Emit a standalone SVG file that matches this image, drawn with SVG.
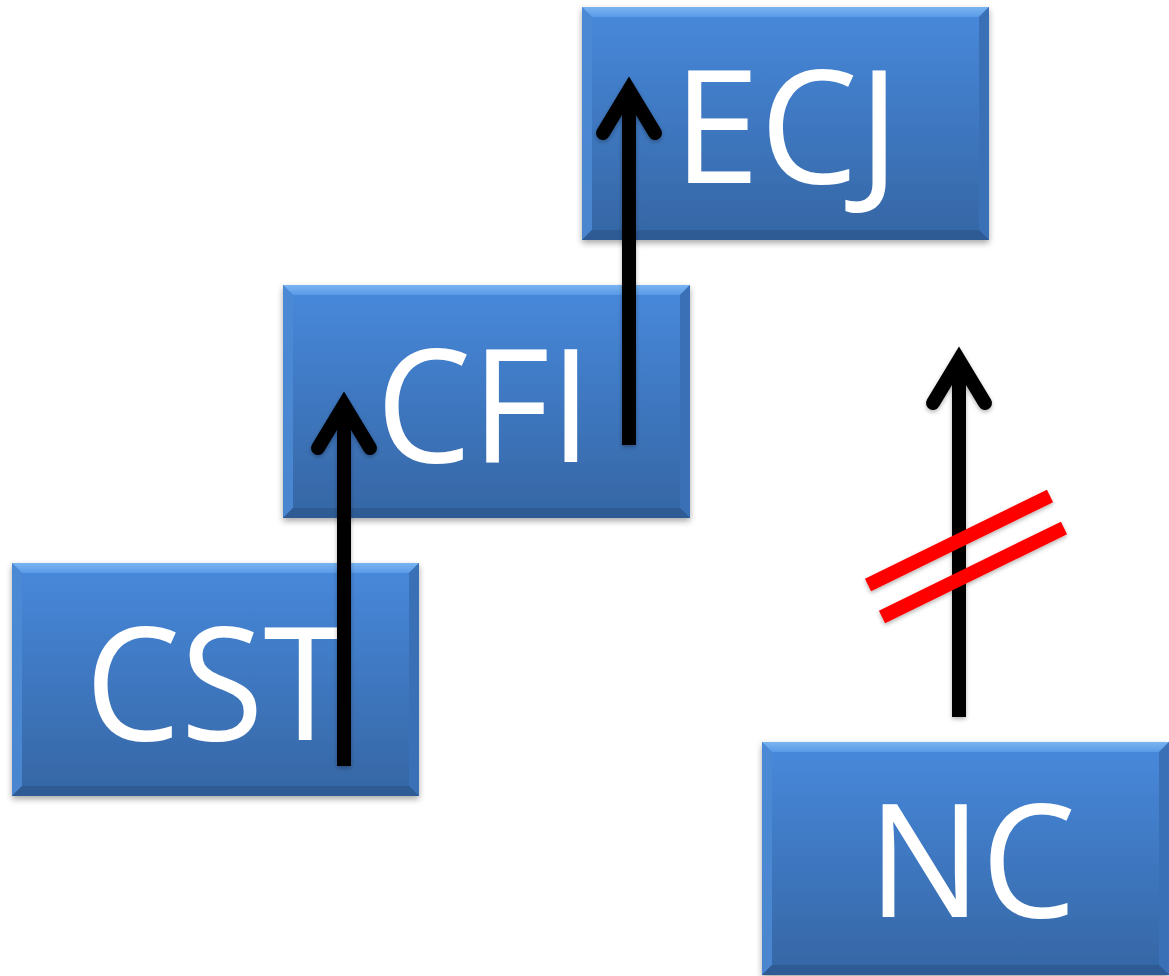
<svg xmlns="http://www.w3.org/2000/svg" xmlns:xlink="http://www.w3.org/1999/xlink" width="1169" height="976" viewBox="0 0 1169 976">
  <style>
    .lbl { font-family: "Open Sans", "Noto Sans", "Liberation Sans", sans-serif; font-size: 158px; fill: #ffffff; text-anchor: middle; }
    .shaft { stroke: #000; stroke-width: 14; fill: none; stroke-linecap: butt; }
    .head { stroke: #000; stroke-width: 14; fill: none; stroke-linecap: round; stroke-linejoin: miter; stroke-miterlimit: 10; }
    .cross { stroke: #ff0000; stroke-width: 14; fill: none; stroke-linecap: butt; }
  </style>
  <defs>
    <linearGradient id="fillG" x1="0" y1="0" x2="0" y2="1">
      <stop offset="0" stop-color="#4889dc"/>
      <stop offset="1" stop-color="#3566a4"/>
    </linearGradient>
    <linearGradient id="topG" x1="0" y1="0" x2="0" y2="1">
      <stop offset="0" stop-color="#7ab5f2"/>
      <stop offset="1" stop-color="#5a9ae6"/>
    </linearGradient>
    <filter id="sh" x="-5%" y="-5%" width="110%" height="115%">
      <feDropShadow dx="0" dy="3" stdDeviation="3" flood-color="#000" flood-opacity="0.35"/>
    </filter>
    <filter id="ash" x="-50%" y="-5%" width="200%" height="110%">
      <feDropShadow dx="0" dy="2" stdDeviation="2" flood-color="#000" flood-opacity="0.3"/>
    </filter>
    <g id="box">
      <rect x="0" y="0" width="407" height="233" fill="url(#fillG)" filter="url(#sh)"/>
      <polygon points="0,0 407,0 397,10 10,10" fill="url(#topG)"/>
      <polygon points="0,0 10,10 10,223 0,233" fill="#4c89d4" opacity="0.9"/>
      <polygon points="407,0 407,233 397,223 397,10" fill="#3a70b5"/>
      <polygon points="0,233 10,223 397,223 407,233" fill="#2f5b95"/>
    </g>
  </defs>
  <rect width="1169" height="976" fill="#ffffff"/>

  <g id="node-ECJ">
    <use xlink:href="#box" x="582" y="7"/>
    <text class="lbl" x="786.5" y="183" textLength="227" lengthAdjust="spacingAndGlyphs">ECJ</text>
  </g>
  <g id="node-CFI">
    <use xlink:href="#box" x="283" y="285"/>
    <text class="lbl" x="484" y="462" textLength="216" lengthAdjust="spacingAndGlyphs">CFI</text>
  </g>
  <g id="node-CST">
    <use xlink:href="#box" x="12" y="563"/>
    <text class="lbl" x="216" y="740" textLength="262" lengthAdjust="spacingAndGlyphs">CST</text>
  </g>
  <g id="node-NC">
    <use xlink:href="#box" x="762" y="742"/>
    <text class="lbl" x="972" y="917" textLength="208" lengthAdjust="spacingAndGlyphs">NC</text>
  </g>

  <g id="connectors" filter="url(#ash)">
    <g id="edge-CST-CFI">
      <line class="shaft" x1="344" y1="766" x2="344" y2="410"/>
      <polyline class="head" points="318,448 344,405 370,448"/>
    </g>
    <g id="edge-CFI-ECJ">
      <line class="shaft" x1="629" y1="445" x2="629" y2="95"/>
      <polyline class="head" points="603,133 629,90 655,133"/>
    </g>
    <g id="edge-NC-ECJ-negated">
      <line class="shaft" x1="959" y1="717" x2="959" y2="365"/>
      <polyline class="head" points="933,403 959,360 985,403"/>
      <line class="cross" x1="868" y1="585" x2="1050" y2="496"/>
      <line class="cross" x1="882" y1="617" x2="1064" y2="528"/>
    </g>
  </g>
</svg>
